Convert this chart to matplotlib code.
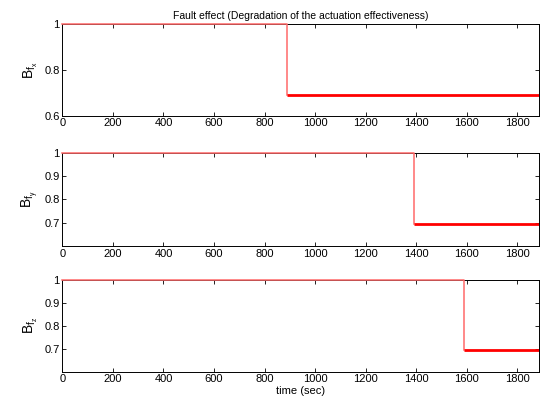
import matplotlib
matplotlib.use("Agg")
import matplotlib.pyplot as plt

plt.rcParams['font.family'] = ['Liberation Sans', 'DejaVu Sans']
plt.rcParams['mathtext.default'] = 'regular'
plt.rcParams['font.size'] = 8

# fault data
fault_time = [890, 1390, 1590]       # sec, step instant per axis
fault_level = [0.69, 0.695, 0.695]   # effectiveness after the fault
t_end = 1885
ylabels = ['$B_{f_x}$', '$B_{f_y}$', '$B_{f_z}$']
yticks = [[0.6, 0.8, 1], [0.7, 0.8, 0.9, 1], [0.7, 0.8, 0.9, 1]]
xticks = [0, 200, 400, 600, 800, 1000, 1200, 1400, 1600, 1800]

fig = plt.figure(figsize=(5.41, 4.05), dpi=100)
positions = [[0.1152, 0.7143, 0.881, 0.2257],
             [0.1152, 0.3926, 0.881, 0.2304],
             [0.1152, 0.0822, 0.881, 0.2264]]

for i in range(3):
    ax = fig.add_axes(positions[i])
    tf = fault_time[i]
    lv = fault_level[i]
    # healthy part, drawn over the top spine like matlab does
    ax.plot([0, tf, tf], [1, 1, lv], color='#ff6a6a', lw=1.1,
            clip_on=False, zorder=5)
    # degraded part (noisy band drawn as a thick line)
    ax.plot([tf, t_end], [lv, lv], color='red', lw=2, solid_capstyle='butt',
            zorder=5)
    ax.set_xlim(0, t_end)
    ax.set_ylim(0.6, 1)
    ax.set_xticks(xticks)
    ax.set_yticks(yticks[i])
    ax.set_yticklabels([('%g' % v) for v in yticks[i]])
    ax.tick_params(direction='in', length=3, width=0.6, top=True, right=True,
                   labelsize=8, pad=2)
    for s in ax.spines.values():
        s.set_linewidth(0.7)
    ax.set_ylabel(ylabels[i], fontsize=10, labelpad=3)
    if i == 0:
        ax.set_title('Fault effect (Degradation of the actuation effectiveness)',
                     fontsize=7.5, pad=4)
    if i == 2:
        ax.set_xlabel('time (sec)', fontsize=8, labelpad=1)

fig.savefig('out.png', dpi=100)
